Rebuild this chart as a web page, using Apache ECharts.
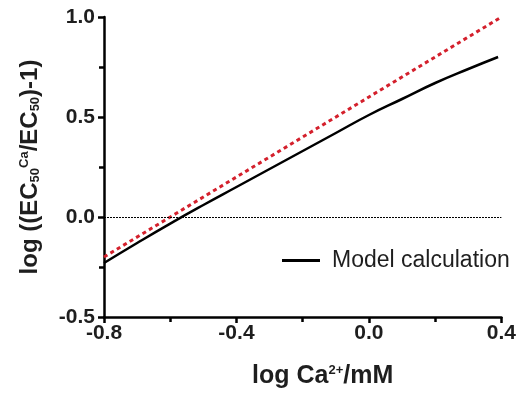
<!DOCTYPE html>
<html>
<head>
<meta charset="utf-8">
<script src="https://cdn.jsdelivr.net/npm/echarts@6/dist/echarts.min.js"></script>
<style>
  html, body { margin: 0; padding: 0; background: #fff; }
  #chart { width: 519px; height: 394px; }
</style>
</head>
<body>
<div id="chart"></div>
<script>
// model curve
const modelX = [-0.8, -0.7, -0.6, -0.5, -0.4, -0.3, -0.2, -0.1, 0.0, 0.1, 0.2, 0.3, 0.39];
const modelY = [-0.23, -0.13, -0.033, 0.06, 0.15, 0.24, 0.33, 0.42, 0.51, 0.59, 0.67, 0.74, 0.80];

// red dotted reference line
const refX = [-0.8, 0.4];
const refY = [-0.2, 1.0];

const seriesName = 'Model calculation';

const chart = echarts.init(document.getElementById('chart'));
const font = 'Liberation Sans, Arial, sans-serif';
const textColor = '#1e1e1e';

chart.setOption({
    animation: false,
    grid: { left: 104, right: 14, top: 17, bottom: 76, containLabel: false },
    legend: {
        left: 277,
        top: 244,
        data: [{ name: seriesName, icon: 'rect' }],
        itemWidth: 38,
        itemHeight: 3,
        textStyle: { fontFamily: font, fontSize: 23, color: textColor, padding: [0, 0, 0, 7] }
    },
    xAxis: {
        type: 'value',
        min: -0.8,
        max: 0.4,
        interval: 0.4,
        splitLine: { show: false },
        axisLine: { onZero: false, lineStyle: { color: '#000', width: 2.5 } },
        axisTick: { length: 6, lineStyle: { width: 2.5, color: '#000' } },
        minorTick: { show: true, splitNumber: 2, length: 5, lineStyle: { width: 2.5, color: '#000' } },
        axisLabel: {
            margin: 6,
            fontFamily: font, fontSize: 21, fontWeight: 'bold', color: textColor,
            formatter: v => v.toFixed(1)
        },
        name: 'log Ca{sup|2+}/mM',
        nameLocation: 'middle',
        nameGap: 47,
        nameTextStyle: {
            fontFamily: font, fontSize: 25, fontWeight: 'bold', color: textColor,
            padding: [0, 0, 0, 40],
            rich: {
                sup: { fontFamily: font, fontSize: 13, fontWeight: 'bold', color: textColor, padding: [0, 0, 12, 0] }
            }
        }
    },
    yAxis: {
        type: 'value',
        min: -0.5,
        max: 1.0,
        interval: 0.5,
        splitLine: { show: false },
        axisLine: { onZero: false, lineStyle: { color: '#000', width: 2.5 } },
        axisTick: { length: 6, lineStyle: { width: 2.5, color: '#000' } },
        minorTick: { show: true, splitNumber: 2, length: 5, lineStyle: { width: 2.5, color: '#000' } },
        axisLabel: {
            margin: 9,
            fontFamily: font, fontSize: 21, fontWeight: 'bold', color: textColor,
            formatter: v => v.toFixed(1)
        },
        name: 'log ((EC{sub|50}{sup|Ca}/EC{sub|50})-1)',
        nameLocation: 'middle',
        nameGap: 61,
        nameTextStyle: {
            fontFamily: font, fontSize: 24, fontWeight: 'bold', color: textColor,
            rich: {
                sub: { fontFamily: font, fontSize: 13, fontWeight: 'bold', color: textColor, padding: [10, 0, 0, 0] },
                sup: { fontFamily: font, fontSize: 13, fontWeight: 'bold', color: textColor, padding: [0, 0, 12, 0] }
            }
        }
    },
    series: [
        {
            name: 'reference',
            type: 'line',
            data: refX.map((x, i) => [x, refY[i]]),
            symbol: 'none',
            lineStyle: { color: '#d4202c', width: 3, type: [4, 3.5] },
            z: 3
        },
        {
            name: seriesName,
            type: 'line',
            data: modelX.map((x, i) => [x, modelY[i]]),
            symbol: 'none',
            smooth: true,
            itemStyle: { color: '#000' },
            lineStyle: { color: '#000', width: 2.5 },
            markLine: {
                silent: true,
                symbol: 'none',
                label: { show: false },
                lineStyle: { color: '#000', width: 1, type: [2, 1] },
                data: [{ yAxis: 0 }]
            },
            z: 4
        }
    ]
});
</script>
</body>
</html>
